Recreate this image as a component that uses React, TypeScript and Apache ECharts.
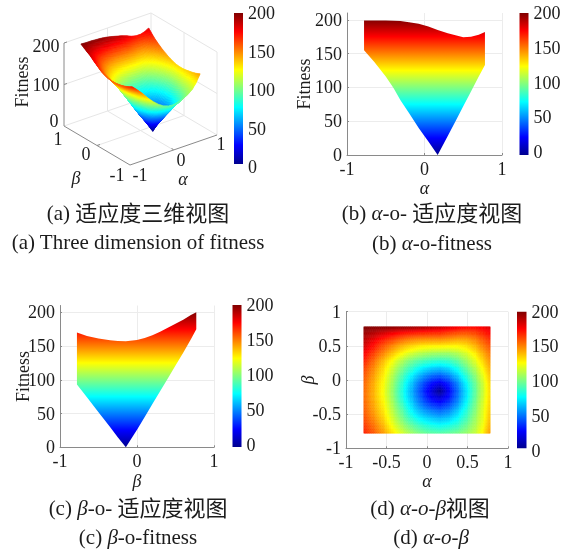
import React, { useEffect, useRef } from "react";
import * as echarts from "echarts";

const alphaGrid = [-0.78, -0.66, -0.54, -0.42, -0.3, -0.18, -0.06, 0.05, 0.16, 0.27, 0.38, 0.49, 0.6, 0.69, 0.78];
const betaGrid = [-0.78, -0.67, -0.56, -0.45, -0.34, -0.25, -0.16, -0.05, 0.06, 0.17, 0.28, 0.39, 0.5, 0.6, 0.69, 0.78];
// fitness surface, one row per beta (ascending), one column per alpha
const fitness = [
  [170, 158, 145, 130, 117, 106, 98, 94, 93, 95, 99, 105, 114, 127, 145],
  [165, 153, 139, 122, 107, 94, 85, 80, 77, 80, 86, 97, 110, 123, 141],
  [161, 148, 134, 116, 98, 82, 71, 65, 61, 65, 75, 89, 106, 120, 138],
  [158, 144, 130, 111, 92, 72, 58, 50, 45, 51, 65, 83, 102, 119, 136],
  [156, 142, 127, 107, 85, 65, 46, 34, 28, 37, 54, 76, 99, 117, 134],
  [155, 140, 125, 104, 81, 60, 40, 24, 15, 28, 49, 72, 96, 115, 133],
  [155, 140, 124, 103, 80, 58, 37, 19, 0, 24, 47, 71, 95, 114, 133],
  [156, 141, 125, 105, 83, 62, 42, 28, 20, 32, 52, 75, 97, 115, 134],
  [159, 144, 128, 109, 89, 71, 56, 46, 42, 50, 65, 84, 103, 120, 137],
  [163, 148, 132, 115, 98, 84, 72, 66, 63, 68, 79, 95, 111, 126, 141],
  [170, 154, 138, 123, 109, 97, 90, 86, 84, 86, 94, 106, 120, 133, 146],
  [177, 163, 149, 136, 125, 116, 110, 107, 106, 106, 110, 118, 129, 141, 152],
  [185, 172, 159, 148, 139, 133, 129, 128, 128, 127, 127, 131, 140, 150, 159],
  [190, 180, 170, 162, 155, 150, 148, 148, 148, 146, 143, 144, 150, 158, 166],
  [195, 190, 184, 178, 173, 170, 168, 167, 167, 163, 160, 159, 162, 168, 174],
  [200, 199, 199, 198, 197, 195, 192, 189, 186, 182, 177, 174, 174, 177, 182],
];

// panel (b): silhouette of the surface seen along beta
const bAlpha = [-0.78, -0.65, -0.5, -0.4, -0.31, -0.2, -0.075, 0.05, 0.17, 0.3, 0.4, 0.5, 0.6, 0.7, 0.78];
const bLower = [155, 138, 116, 99, 81, 62, 40, 20, 0, 28, 50, 72, 94, 116, 133];
const bUpper = [199, 199, 199, 198.5, 198, 196.5, 194, 190, 185, 180, 177, 174, 175, 178, 182];
// panel (c): silhouette of the surface seen along alpha
const cBeta = [-0.78, -0.65, -0.5, -0.35, -0.25, -0.145, 0, 0.1, 0.2, 0.3, 0.4, 0.5, 0.6, 0.7, 0.77];
const cLower = [93, 74, 52, 30, 15, 0, 26, 45, 64, 83, 102, 121, 140, 160, 175];
const cUpper = [170, 165, 161, 158.5, 157.5, 157, 159, 162, 166, 171, 177, 183, 189, 196, 200];

const jetStops = [
  [0, 0, 0, 143],
  [25, 0, 0, 255],
  [75, 0, 255, 255],
  [100, 128, 255, 128],
  [125, 255, 255, 0],
  [175, 255, 0, 0],
  [200, 128, 0, 0],
];
const fitnessTicks = [0, 50, 100, 150, 200];

const SERIF = '"Liberation Serif","Noto Sans CJK SC",serif';
const INK = "#1c1c1c";
const AXIS = "#8a8a8a";
const FAINT = "#ececec";

function jet(z: number): string {
  const v = Math.max(0, Math.min(200, z));
  for (let k = 1; k < jetStops.length; k++) {
    if (v <= jetStops[k][0]) {
      const a = jetStops[k - 1];
      const b = jetStops[k];
      const t = (v - a[0]) / (b[0] - a[0]);
      return `rgb(${Math.round(a[1] + (b[1] - a[1]) * t)},${Math.round(a[2] + (b[2] - a[2]) * t)},${Math.round(a[3] + (b[3] - a[3]) * t)})`;
    }
  }
  return "rgb(128,0,0)";
}
const gradientStops = jetStops
  .map((s) => ({ offset: 1 - s[0] / 200, color: `rgb(${s[1]},${s[2]},${s[3]})` }))
  .reverse();

// shading inside a mesh quad, as a surface plot's interpolated shading does
function bilinear(i: number, j: number, u: number, v: number) {
  const a = fitness[j][i] * (1 - u) + fitness[j][i + 1] * u;
  const b = fitness[j + 1][i] * (1 - u) + fitness[j + 1][i + 1] * u;
  return a * (1 - v) + b * v;
}
const SUB = 5;
const cells: number[][] = [];
for (let i = alphaGrid.length - 2; i >= 0; i--) {
  for (let j = betaGrid.length - 2; j >= 0; j--) cells.push([i, j]);
}

// the view of the 3-D box
function project(a: number, b: number, z: number): number[] {
  return [130 + (a + 1) * 43.5 - (b + 1) * 33, 165 - (a + 1) * 15 - (b + 1) * 19.5 - z * 0.415];
}

function cellGeometry(i: number, j: number, s: number, t: number) {
  const a0 = alphaGrid[i], a1 = alphaGrid[i + 1], b0 = betaGrid[j], b1 = betaGrid[j + 1];
  return {
    a: a0 + (a1 - a0) * (s / SUB),
    b: b0 + (b1 - b0) * (t / SUB),
    z: bilinear(i, j, s / SUB, t / SUB),
  };
}

function surface3D(params: any, api: any) {
  const i = api.value(0), j = api.value(1);
  const children: any[] = [];
  for (let s = SUB - 1; s >= 0; s--) {
    for (let t = SUB - 1; t >= 0; t--) {
      const c = [[s, t], [s + 1, t], [s + 1, t + 1], [s, t + 1]].map(([p, q]) => cellGeometry(i, j, p, q));
      const mean = bilinear(i, j, (s + 0.5) / SUB, (t + 0.5) / SUB);
      const col = jet(mean);
      children.push({
        type: "polygon",
        shape: { points: c.map((n) => project(n.a, n.b, n.z)) },
        style: { fill: col, stroke: col, lineWidth: 0.6 },
      });
    }
  }
  return { type: "group", children };
}

function heatCell(params: any, api: any) {
  const i = api.value(0), j = api.value(1);
  const children: any[] = [];
  for (let s = 0; s < SUB; s++) {
    for (let t = 0; t < SUB; t++) {
      const p = cellGeometry(i, j, s, t);
      const q = cellGeometry(i, j, s + 1, t + 1);
      const p0 = api.coord([p.a, p.b]);
      const p1 = api.coord([q.a, q.b]);
      const col = jet(bilinear(i, j, (s + 0.5) / SUB, (t + 0.5) / SUB));
      children.push({
        type: "rect",
        shape: { x: p0[0], y: p1[1], width: p1[0] - p0[0], height: p0[1] - p1[1] },
        style: { fill: col, stroke: col, lineWidth: 0.5 },
      });
    }
  }
  return { type: "group", children };
}

function silhouette(xs: number[], lower: number[], upper: number[]) {
  return (params: any, api: any) => {
    const pts = [
      ...xs.map((x, k) => api.coord([x, upper[k]])),
      ...xs.map((x, k) => api.coord([x, lower[k]])).reverse(),
    ];
    const y200 = api.coord([0, 200])[1];
    const y0 = api.coord([0, 0])[1];
    return {
      type: "polygon",
      shape: { points: pts },
      style: { fill: new echarts.graphic.LinearGradient(0, y200, 0, y0, gradientStops, true) },
    };
  };
}

function colorBar(extraBottom: number) {
  return (params: any, api: any) => {
    const top = api.coord([0, 200]);
    const bot = api.coord([0, 0]);
    const right = api.coord([1, 0]);
    const h = bot[1] + extraBottom - top[1];
    return {
      type: "rect",
      shape: { x: top[0], y: top[1], width: right[0] - top[0], height: h },
      style: { fill: new echarts.graphic.LinearGradient(0, top[1], 0, top[1] + h, gradientStops, true) },
    };
  };
}

const tickFont = { fontFamily: SERIF, fontSize: 18, color: INK };
function plotAxis(gridIndex: number, min: number, max: number, interval: number, name: string, gap: number, italic: boolean, margin: number, custom?: number[]) {
  return {
    gridIndex, type: "value", min, max, interval, name, nameLocation: "middle", nameGap: gap,
    nameMoveOverlap: false,
    nameTextStyle: { fontFamily: SERIF, fontSize: 18, color: INK, fontStyle: italic ? "italic" : "normal" },
    axisLine: { show: true, onZero: false, lineStyle: { color: AXIS, width: 1 } },
    axisTick: { show: true, inside: true, length: 2, lineStyle: { color: AXIS }, ...(custom ? { customValues: custom } : {}) },
    axisLabel: { ...tickFont, margin, hideOverlap: false, ...(custom ? { customValues: custom } : {}) },
    splitLine: { show: true, lineStyle: { color: FAINT, width: 1 } },
  };
}
function barAxes(gridIndex: number) {
  return {
    x: { gridIndex, type: "value", min: 0, max: 1, show: false },
    y: {
      gridIndex, type: "value", position: "right", min: 0, max: 200, interval: 50,
      axisLine: { show: false }, axisTick: { show: false }, splitLine: { show: false },
      axisLabel: { ...tickFont, margin: 5 },
    },
  };
}

function label(text: string, x: number, y: number, extra: any = {}) {
  return {
    type: "text", silent: true, z: 50, x, y,
    rotation: extra.rotation || 0,
    style: {
      text, x: 0, y: 0, fill: INK, align: "center", verticalAlign: "middle",
      font: `${extra.fontStyle || "normal"} ${extra.size || 18}px ${SERIF}`,
    },
  };
}
function caption(text: string, x: number, y: number) {
  const n = { fontFamily: SERIF, fontSize: 21, fill: INK, color: INK };
  return {
    type: "text", silent: true, z: 50, x, y,
    style: {
      text, x: 0, y: 0, fill: INK, align: "center", verticalAlign: "middle",
      font: `21px ${SERIF}`,
      rich: { n, i: { ...n, fontStyle: "italic" }, c: { ...n, fontSize: 22 } },
    },
  };
}

const alphaTicks3D = [
  ["-1", 140, 175],
  ["0", 181, 160],
  ["1", 221, 144],
] as const;
const betaTicks3D = [
  ["1", 58, 139],
  ["0", 86, 154],
  ["-1", 117, 175],
] as const;
const zTicks3D = [
  ["200", 46, 46],
  ["100", 46, 85],
  ["0", 54, 121],
] as const;

function box3D() {
  const line = (a: number[], b: number[], color: string) => ({
    type: "line",
    shape: { x1: a[0], y1: a[1], x2: b[0], y2: b[1] },
    style: { stroke: color, lineWidth: 1 },
  });
  const P = project;
  const f = "#e6e6e6";
  const children = [
    line(P(-1, 1, 200), P(1, 1, 200), f),
    line(P(1, 1, 200), P(1, -1, 200), f),
    line(P(1, 1, 0), P(1, 1, 200), f),
    line(P(1, -1, 0), P(1, -1, 200), f),
    line(P(-1, 1, 100), P(1, 1, 100), f),
    line(P(1, 1, 100), P(1, -1, 100), f),
    line(P(-1, 1, 0), P(1, 1, 0), f),
    line(P(1, 1, 0), P(1, -1, 0), f),
    line(P(0, 1, 0), P(0, 1, 200), f),
    line(P(1, 0, 0), P(1, 0, 200), f),
    line(P(0, 1, 0), P(0, -1, 0), f),
    line(P(1, 0, 0), P(-1, 0, 0), f),
    line(P(-1, 1, 0), P(-1, 1, 200), AXIS),
    line(P(-1, 1, 0), P(-1, -1, 0), AXIS),
    line(P(-1, -1, 0), P(1, -1, 0), AXIS),
    line(P(-1, 1, 100), [P(-1, 1, 100)[0] + 3, P(-1, 1, 100)[1] - 1], AXIS),
    line(P(-1, 1, 200), [P(-1, 1, 200)[0] + 3, P(-1, 1, 200)[1] - 1], AXIS),
    line(P(0, -1, 0), [P(0, -1, 0)[0] - 2, P(0, -1, 0)[1] - 2], AXIS),
    line(P(-1, 0, 0), [P(-1, 0, 0)[0] + 3, P(-1, 0, 0)[1] - 1], AXIS),
  ];
  return { type: "group", children };
}

const grids = [
  { left: 347, top: 13, width: 155, height: 142 }, // b
  { left: 519.5, top: 13, width: 9, height: 139 }, // b bar
  { left: 60, top: 305.5, width: 154, height: 141.8 }, // c
  { left: 232.5, top: 305, width: 9, height: 140 }, // c bar
  { left: 346, top: 311.7, width: 162, height: 136.6 }, // d
  { left: 517, top: 311.7, width: 9.5, height: 139 }, // d bar
  { left: 234, top: 13, width: 9, height: 154 }, // a bar
];

export default function App() {
  const ref = useRef<HTMLDivElement>(null);
  useEffect(() => {
    document.body.style.margin = "0";
    const chart = echarts.init(ref.current!, undefined, { renderer: "svg" });
    const barB = barAxes(1), barC = barAxes(3), barD = barAxes(5), barA = barAxes(6);
    chart.setOption({
      animation: false,
      backgroundColor: "#ffffff",
      grid: grids,
      xAxis: [
        plotAxis(0, -1, 1, 1, "α", 24, true, 4.5), barB.x,
        plotAxis(2, -1, 1, 1, "β", 25, true, 5), barC.x,
        plotAxis(4, -1, 1, 0.5, "α", 24, true, 5), barD.x, barA.x,
      ],
      yAxis: [
        plotAxis(0, 0, 210, 50, "Fitness", 34, false, 5, fitnessTicks), barB.y,
        plotAxis(2, 0, 210, 50, "Fitness", 28, false, 5, fitnessTicks), barC.y,
        plotAxis(4, -1, 1, 0.5, "β", 29, true, 5), barD.y, barA.y,
      ],
      series: [
        { type: "custom", coordinateSystem: "none", silent: true, data: [[0]], renderItem: box3D, z: 1 },
        { type: "custom", coordinateSystem: "none", silent: true, data: cells, renderItem: surface3D, z: 2 },
        { type: "custom", xAxisIndex: 0, yAxisIndex: 0, silent: true, data: [[bAlpha[0], bLower[0]]], renderItem: silhouette(bAlpha, bLower, bUpper), clip: false, z: 3 },
        { type: "custom", xAxisIndex: 2, yAxisIndex: 2, silent: true, data: [[cBeta[0], cLower[0]]], renderItem: silhouette(cBeta, cLower, cUpper), clip: false, z: 3 },
        { type: "custom", xAxisIndex: 4, yAxisIndex: 4, silent: true, data: cells, renderItem: heatCell, z: 3 },
        { type: "custom", xAxisIndex: 1, yAxisIndex: 1, silent: true, data: [[0, 0]], renderItem: colorBar(3), z: 3 },
        { type: "custom", xAxisIndex: 3, yAxisIndex: 3, silent: true, data: [[0, 0]], renderItem: colorBar(2), z: 3 },
        { type: "custom", xAxisIndex: 5, yAxisIndex: 5, silent: true, data: [[0, 0]], renderItem: colorBar(-2.5), z: 3 },
        { type: "custom", xAxisIndex: 6, yAxisIndex: 6, silent: true, data: [[0, 0]], renderItem: colorBar(-3), z: 3 },
      ],
      graphic: {
        elements: [
          ...alphaTicks3D.map(([t, x, y]) => label(t, x, y)),
          ...betaTicks3D.map(([t, x, y]) => label(t, x, y)),
          ...zTicks3D.map(([t, x, y]) => label(t, x, y)),
          label("α", 183, 179, { fontStyle: "italic" }),
          label("β", 76, 178, { fontStyle: "italic" }),
          label("Fitness", 22, 82, { rotation: Math.PI / 2 }),
          caption("{n|(a) }{c|适应度三维视图}", 138, 213),
          caption("{n|(a) Three dimension of fitness}", 138, 242),
          caption("{n|(b) }{i|α}{n|-o- }{c|适应度视图}", 432, 213),
          caption("{n|(b) }{i|α}{n|-o-fitness}", 432, 243),
          caption("{n|(c) }{i|β}{n|-o- }{c|适应度视图}", 138, 508),
          caption("{n|(c) }{i|β}{n|-o-fitness}", 138, 537),
          caption("{n|(d) }{i|α-o-β}{c|视图}", 430, 508),
          caption("{n|(d) }{i|α-o-β}", 431, 537),
        ],
      },
    });
    return () => chart.dispose();
  }, []);
  return <div ref={ref} style={{ width: 573, height: 552, filter: "blur(0.45px)" }} />;
}
